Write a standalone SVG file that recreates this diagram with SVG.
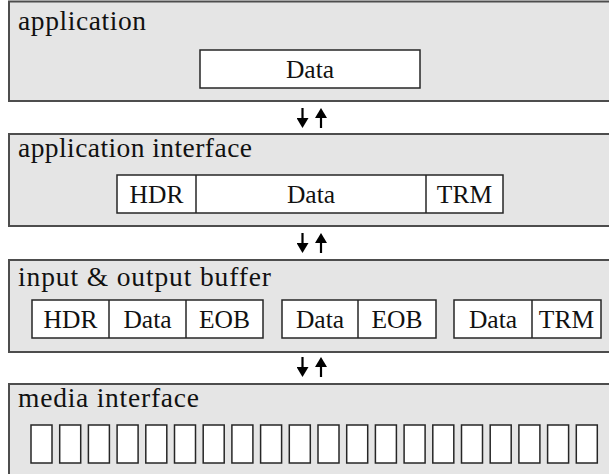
<svg xmlns="http://www.w3.org/2000/svg" width="609" height="474" viewBox="0 0 609 474">
<style>
.layer{fill:#e5e5e5;stroke:#4d4d4d;stroke-width:2}
.cell{fill:#ffffff;stroke:#262626;stroke-width:1.5}
.lbl{font-family:"Liberation Serif","Times New Roman",serif;font-size:27.5px;fill:#111}
.ct{font-family:"Liberation Serif","Times New Roman",serif;font-size:25.5px;fill:#111;text-anchor:middle}
.arr{stroke:#000;stroke-width:2.2;fill:none}
</style>
<defs>
<marker id="ah" viewBox="0 0 10 12" refX="1" refY="6" markerWidth="10" markerHeight="12" orient="auto" markerUnits="userSpaceOnUse">
<path d="M0,0 L10,6 L0,12 z" fill="#000"/>
</marker>
</defs>

<g id="layer-application">
<rect class="layer" x="9" y="1.5" width="610" height="99.5"/>
<text class="lbl" x="18" y="30" textLength="128" lengthAdjust="spacing">application</text>
<rect class="cell" x="200" y="50" width="220" height="38"/>
<text class="ct" x="310" y="78">Data</text>
</g>

<g id="layer-application-interface">
<rect class="layer" x="9" y="134" width="610" height="92"/>
<text class="lbl" x="18" y="157" textLength="234" lengthAdjust="spacing">application interface</text>
<rect class="cell" x="117" y="175" width="386" height="38"/>
<line class="cell" x1="196" y1="175" x2="196" y2="213"/>
<line class="cell" x1="426" y1="175" x2="426" y2="213"/>
<text class="ct" x="156.5" y="203">HDR</text>
<text class="ct" x="311" y="203">Data</text>
<text class="ct" x="464.5" y="203">TRM</text>
</g>

<g id="layer-buffer">
<rect class="layer" x="9" y="260" width="610" height="92"/>
<text class="lbl" x="18" y="286" textLength="253" lengthAdjust="spacing">input &amp; output buffer</text>
<rect class="cell" x="32" y="300" width="231" height="38"/>
<line class="cell" x1="109" y1="300" x2="109" y2="338"/>
<line class="cell" x1="186" y1="300" x2="186" y2="338"/>
<text class="ct" x="70.5" y="328">HDR</text>
<text class="ct" x="147.5" y="328">Data</text>
<text class="ct" x="224.5" y="328">EOB</text>
<rect class="cell" x="282" y="300" width="154" height="38"/>
<line class="cell" x1="358" y1="300" x2="358" y2="338"/>
<text class="ct" x="320" y="328">Data</text>
<text class="ct" x="397" y="328">EOB</text>
<rect class="cell" x="454" y="300" width="147" height="38"/>
<line class="cell" x1="532" y1="300" x2="532" y2="338"/>
<text class="ct" x="493" y="328">Data</text>
<text class="ct" x="566.5" y="328">TRM</text>
</g>

<g id="layer-media">
<rect class="layer" x="9" y="384" width="610" height="100"/>
<text class="lbl" x="18" y="407" textLength="181" lengthAdjust="spacing">media interface</text>
<g id="slots">
<rect class="cell" x="31" y="425" width="21" height="38"/>
<rect class="cell" x="59.7" y="425" width="21" height="38"/>
<rect class="cell" x="88.4" y="425" width="21" height="38"/>
<rect class="cell" x="117.1" y="425" width="21" height="38"/>
<rect class="cell" x="145.8" y="425" width="21" height="38"/>
<rect class="cell" x="174.5" y="425" width="21" height="38"/>
<rect class="cell" x="203.2" y="425" width="21" height="38"/>
<rect class="cell" x="231.9" y="425" width="21" height="38"/>
<rect class="cell" x="260.6" y="425" width="21" height="38"/>
<rect class="cell" x="289.3" y="425" width="21" height="38"/>
<rect class="cell" x="318" y="425" width="21" height="38"/>
<rect class="cell" x="346.7" y="425" width="21" height="38"/>
<rect class="cell" x="375.4" y="425" width="21" height="38"/>
<rect class="cell" x="404.1" y="425" width="21" height="38"/>
<rect class="cell" x="432.8" y="425" width="21" height="38"/>
<rect class="cell" x="461.5" y="425" width="21" height="38"/>
<rect class="cell" x="490.2" y="425" width="21" height="38"/>
<rect class="cell" x="518.9" y="425" width="21" height="38"/>
<rect class="cell" x="547.6" y="425" width="21" height="38"/>
<rect class="cell" x="576.3" y="425" width="21" height="38"/>
</g>
</g>

<g id="connectors">
<line class="arr" x1="302.5" y1="108" x2="302.5" y2="119" marker-end="url(#ah)"/>
<line class="arr" x1="321" y1="128" x2="321" y2="117" marker-end="url(#ah)"/>
<line class="arr" x1="302.5" y1="233" x2="302.5" y2="244" marker-end="url(#ah)"/>
<line class="arr" x1="321" y1="253" x2="321" y2="242" marker-end="url(#ah)"/>
<line class="arr" x1="302.5" y1="357" x2="302.5" y2="368" marker-end="url(#ah)"/>
<line class="arr" x1="321" y1="377" x2="321" y2="366" marker-end="url(#ah)"/>
</g>
</svg>
